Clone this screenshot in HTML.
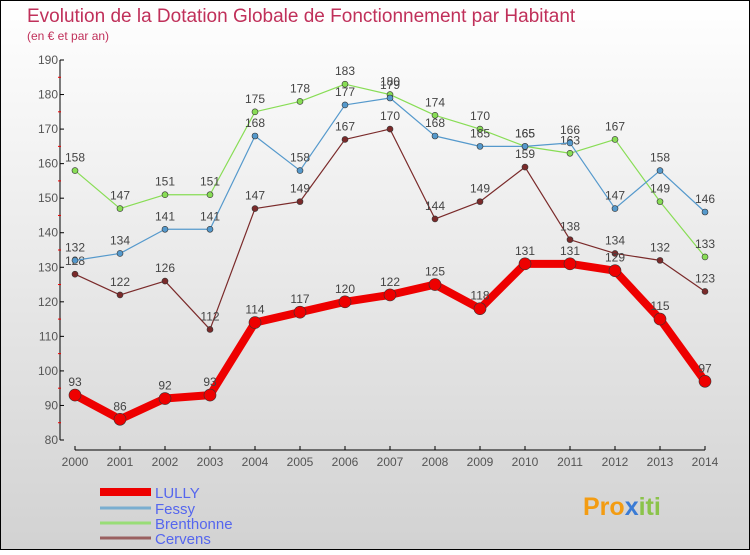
<!DOCTYPE html>
<html><head><meta charset="utf-8"><style>
html,body{margin:0;padding:0}
body{width:750px;height:550px;overflow:hidden;font-family:"Liberation Sans",sans-serif}
svg text{font-family:"Liberation Sans",sans-serif}
</style></head><body>
<svg id="chart" width="750" height="550" xmlns="http://www.w3.org/2000/svg">
<defs><linearGradient id="bg" x1="0" y1="0" x2="0" y2="1"><stop offset="0" stop-color="#ffffff"/><stop offset="1" stop-color="#d2d2d2"/></linearGradient></defs>
<rect x="0.5" y="0.5" width="749" height="549" fill="url(#bg)" stroke="#000"/>
<text x="27" y="22" font-size="19" fill="#c0305a">Evolution de la Dotation Globale de Fonctionnement par Habitant</text>
<text x="27" y="40" font-size="12" fill="#c0305a">(en € et par an)</text>
<g id="axes"></g><g id="series"></g><g id="legend"></g>
<text x="583" y="515" font-size="25" font-weight="bold" fill="#f39c12">Pro<tspan fill="#3a7bd5">x</tspan><tspan fill="#8bc34a">iti</tspan></text>
</svg>
<script>
const years=[2000,2001,2002,2003,2004,2005,2006,2007,2008,2009,2010,2011,2012,2013,2014];
const yTicks=[80,90,100,110,120,130,140,150,160,170,180,190];
const lully=[93,86,92,93,114,117,120,122,125,118,131,131,129,115,97];
const fessy=[132,134,141,141,168,158,177,179,168,165,165,166,147,158,146];
const brenthonne=[158,147,151,151,175,178,183,180,174,170,165,163,167,149,133];
const cervens=[128,122,126,112,147,149,167,170,144,149,159,138,134,132,123];
const NS="http://www.w3.org/2000/svg";
const xS=i=>75+i*45;
const yS=v=>440-(v-80)*380/110;
function mk(tag,attrs,parent){const e=document.createElementNS(NS,tag);for(const k in attrs)e.setAttribute(k,attrs[k]);parent.appendChild(e);return e;}
const axes=document.getElementById('axes');
let yl=mk('line',{x1:60,y1:yS(190),x2:60,y2:yS(80),stroke:'#000'},axes);


yTicks.forEach(v=>{
 const t=mk('line',{x1:60,y1:yS(v),x2:64,y2:yS(v),stroke:'#000'},axes);
 
 
 if(v<190){const m=mk('line',{x1:58,y1:yS(v+5),x2:61,y2:yS(v+5),stroke:'#e00'},axes);
 
 }
 const l=mk('text',{x:58,y:yS(v)+4,'font-size':12,fill:'#555','text-anchor':'end'},axes);l.textContent=v;
 
 
});
let xl=mk('line',{x1:75,y1:450,x2:705,y2:450,stroke:'#000'},axes);


years.forEach((yr,i)=>{
 const t=mk('line',{x1:xS(i),y1:446,x2:xS(i),y2:450,stroke:'#000'},axes);
 
 
 const l=mk('text',{x:xS(i),y:466,'font-size':12,fill:'#555','text-anchor':'middle'},axes);l.textContent=yr;
 
 
});
const ser=document.getElementById('series');
function draw(data,color,w,r,name){
 const g=mk('g',{},ser);
 
 
 const pts=data.map((v,i)=>xS(i)+','+yS(v)).join(' ');
 const p=mk('polyline',{points:pts,fill:'none',stroke:color,'stroke-width':w,'stroke-linejoin':'round'},g);
 
 
 data.forEach((v,i)=>{
  const c=mk('circle',{cx:xS(i),cy:yS(v),r:r,fill:color,stroke:'#333','stroke-width':0.6},g);
  
  
  const t=mk('text',{x:xS(i),y:yS(v)-9,'font-size':12,fill:'#444','text-anchor':'middle'},g);t.textContent=v;
  
  
 });
}
draw(cervens,'#7a2a2a',1.2,3,'cervens');
draw(brenthonne,'#88dd55',1.2,3,'brenthonne');
draw(fessy,'#5599cc',1.2,3,'fessy');
draw(lully,'#ee0000',8,6,'lully');
const leg=document.getElementById('legend');
[['LULLY','#ee0000',8,492],['Fessy','#7aaed0',3,508],['Brenthonne','#99dd77',3,523],['Cervens','#9a6060',3,538]].forEach(([n,c,w,y])=>{
 const g=mk('g',{},leg);
 
 
 mk('line',{x1:100,y1:y,x2:151,y2:y,stroke:c,'stroke-width':w},g);
 const t=mk('text',{x:155,y:y+6,'font-size':15,fill:'#5566ee'},g);t.textContent=n;
});
</script>
</body></html>
